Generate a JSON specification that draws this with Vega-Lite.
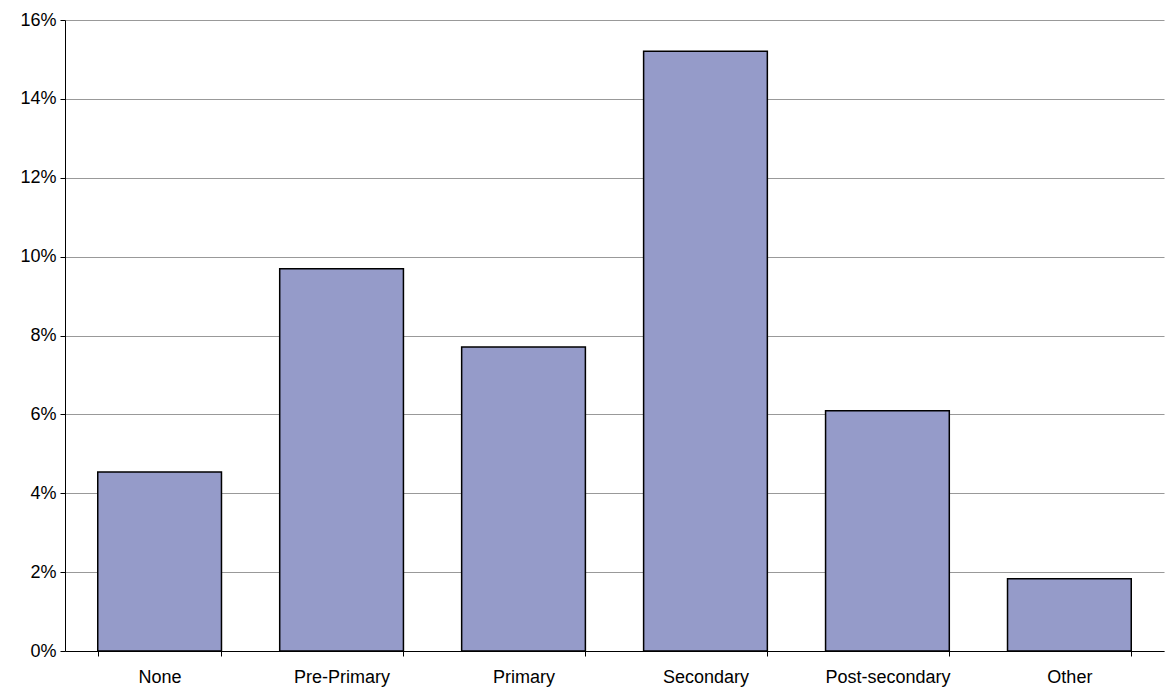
{
  "$schema": "https://vega.github.io/schema/vega-lite/v6.json",
  "width": 1099,
  "height": 631,
  "autosize": "none",
  "padding": {"left": 65, "top": 20, "right": 1, "bottom": 42},
  "background": "white",
  "data": {
    "values": [
      {"level": "None", "share": 0.0454},
      {"level": "Pre-Primary", "share": 0.0969},
      {"level": "Primary", "share": 0.0771},
      {"level": "Secondary", "share": 0.1521},
      {"level": "Post-secondary", "share": 0.0609},
      {"level": "Other", "share": 0.0183}
    ]
  },
  "config": {
    "view": {"stroke": null},
    "font": "Liberation Sans"
  },
  "mark": {"type": "bar", "color": "#959BC9", "stroke": "#000000", "strokeWidth": 1.5},
  "encoding": {
    "x": {
      "field": "level", "type": "nominal", "sort": null, "title": null,
      "scale": {"paddingInner": 0.32, "paddingOuter": 0.18},
      "axis": {"labelAngle": 0, "labelFontSize": 18, "labelColor": "#000", "domainColor": "#000", "tickColor": "#000", "labelPadding": 12, "tickBand": "extent"}
    },
    "y": {
      "field": "share", "type": "quantitative", "title": null,
      "scale": {"domain": [0, 0.16]},
      "axis": {"format": ".0%", "values": [0, 0.02, 0.04, 0.06, 0.08, 0.1, 0.12, 0.14, 0.16], "labelFontSize": 18, "labelColor": "#000", "domainColor": "#000", "tickColor": "#000", "gridColor": "#999", "labelPadding": 4}
    }
  }
}
